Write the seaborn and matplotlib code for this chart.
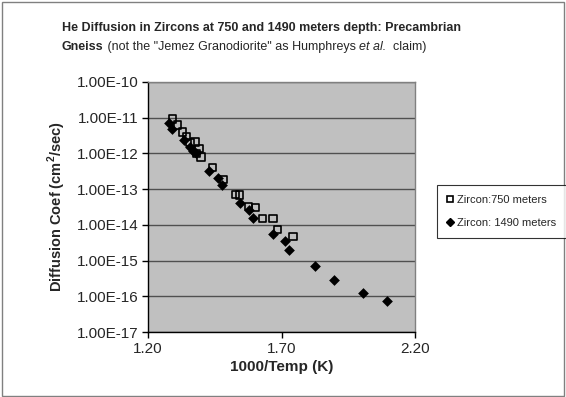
import matplotlib
matplotlib.use("Agg")
import matplotlib.pyplot as plt
import matplotlib.ticker as mticker
from matplotlib.lines import Line2D
from matplotlib.patches import Rectangle
import pandas as pd
import seaborn as sns

# Zircon at 750 m (open squares)
temp_750 = [1.291, 1.310, 1.328, 1.345, 1.357, 1.376, 1.391, 1.382, 1.398, 1.442,
            1.482, 1.528, 1.542, 1.577, 1.603, 1.630, 1.668, 1.686, 1.743]
diff_750 = [9.1e-12, 6.2e-12, 4.0e-12, 3.0e-12, 2.0e-12, 2.1e-12, 1.4e-12, 1.0e-12, 8.0e-13, 4.0e-13,
            1.9e-13, 7.0e-14, 6.8e-14, 3.3e-14, 3.0e-14, 1.5e-14, 1.5e-14, 7.4e-15, 4.7e-15]

# Zircon at 1490 m (filled diamonds)
temp_1490 = [1.280, 1.291, 1.335, 1.357, 1.370, 1.380, 1.430, 1.461, 1.476, 1.545,
             1.577, 1.594, 1.669, 1.713, 1.729, 1.825, 1.895, 2.006, 2.095]
diff_1490 = [6.9e-12, 4.8e-12, 2.3e-12, 1.5e-12, 1.2e-12, 1.0e-12, 3.2e-13, 2.0e-13, 1.3e-13, 4.1e-14,
             2.6e-14, 1.6e-14, 5.4e-15, 3.5e-15, 2.0e-15, 6.9e-16, 2.9e-16, 1.23e-16, 7.2e-17]

series_labels = ["Zircon:750 meters", "Zircon: 1490 meters"]
x_ticks = [1.20, 1.70, 2.20]
y_ticks = [1e-17, 1e-16, 1e-15, 1e-14, 1e-13, 1e-12, 1e-11, 1e-10]

sns.set_style("white")
plt.rcParams["font.family"] = ["Liberation Sans", "DejaVu Sans"]

fig = plt.figure(figsize=(5.66, 3.97), dpi=100)
ax = fig.add_axes([0.2615, 0.1637, 0.4717, 0.6298])
ax.set_facecolor("#c0c0c0")

df750 = pd.DataFrame({"temp": temp_750, "diff": diff_750})
df1490 = pd.DataFrame({"temp": temp_1490, "diff": diff_1490})

sns.scatterplot(data=df750, x="temp", y="diff", ax=ax, marker="s", s=28,
                color="black", linewidth=1.2, zorder=3)
ax.collections[-1].set_facecolor("none")
ax.collections[-1].set_edgecolor("black")
sns.scatterplot(data=df1490, x="temp", y="diff", ax=ax, marker="D", s=30,
                color="black", linewidth=0, zorder=4)

ax.set_yscale("log")
ax.set_xlim(1.2, 2.2)
ax.set_ylim(1e-17, 1e-10)
ax.set_xticks(x_ticks)
ax.set_yticks(y_ticks)
ax.yaxis.set_minor_locator(mticker.NullLocator())
ax.yaxis.set_major_formatter(mticker.FuncFormatter(
    lambda v, p: f"{v:.2E}".replace("E-0", "E-")))
ax.xaxis.set_major_formatter(mticker.FormatStrFormatter("%.2f"))
ax.tick_params(axis="both", direction="out", length=4, width=1, color="black",
               labelsize=11, pad=3, bottom=True, left=True)
ax.grid(axis="y", color="#505050", linewidth=1)
ax.set_axisbelow(True)
for side in ["left", "bottom"]:
    ax.spines[side].set_color("black")
for side in ["top", "right"]:
    ax.spines[side].set_color("#808080")
for sp in ax.spines.values():
    sp.set_linewidth(1)

ax.set_xlabel("1000/Temp (K)", fontsize=11, fontweight="bold", labelpad=3)
ax.set_ylabel("Diffusion Coef (cm$^\\mathregular{2}$/sec)", fontsize=10.5,
              fontweight="bold", labelpad=6)

handles = [
    Line2D([], [], marker="s", linestyle="none", markerfacecolor="none",
           markeredgecolor="black", markersize=4, markeredgewidth=1.2),
    Line2D([], [], marker="D", linestyle="none", markerfacecolor="black",
           markeredgecolor="black", markersize=4),
]
leg = fig.legend(handles, series_labels, loc="upper left",
                 bbox_to_anchor=(437 / 566, 1 - 185 / 397), fontsize=8,
                 frameon=True, fancybox=False, edgecolor="black",
                 handlelength=0.6, handletextpad=0.3, labelspacing=1.2,
                 borderpad=0.9, borderaxespad=0)
leg.get_frame().set_linewidth(0.8)

# title in pieces (mixed bold / normal / italic)
fig.text(62 / 566, 1 - 28 / 397,
         "He Diffusion in Zircons at 750 and 1490 meters depth: Precambrian",
         fontsize=9, fontweight="bold", va="center", ha="left")
renderer = fig.canvas.get_renderer()
pieces = [("Gneiss", "bold", "normal"),
          (" (not the \"Jemez Granodiorite\" as Humphreys ", "normal", "normal"),
          ("et al.", "normal", "italic"),
          ("  claim)", "normal", "normal")]
x0 = 62 / 566
for txt, weight, style in pieces:
    t = fig.text(x0, 1 - 47 / 397, txt, fontsize=9, fontweight=weight,
                 fontstyle=style, va="center", ha="left")
    bb = t.get_window_extent(renderer=renderer)
    x0 = bb.x1 / fig.bbox.width

fig.patches.append(Rectangle((0.003, 0.003), 0.994, 0.992, transform=fig.transFigure,
                             fill=False, edgecolor="#808080", linewidth=1))

fig.savefig("out.png", dpi=100)
